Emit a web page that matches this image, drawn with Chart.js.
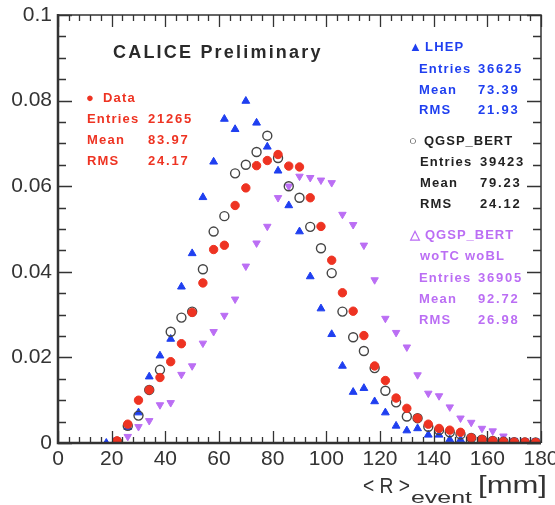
<!DOCTYPE html>
<html>
<head>
<meta charset="utf-8">
<script src="https://cdn.jsdelivr.net/npm/chart.js@4.4.1/dist/chart.umd.min.js"></script>
<style>
  html, body { margin: 0; padding: 0; background: #fff; }
  #wrap { width: 555px; height: 505px; }
</style>
</head>
<body>
<div id="wrap"><canvas id="rChart" width="555" height="505"></canvas></div>
<script>
// bin centres of < R >event [mm]
const rBins = [18, 22, 26, 30, 34, 38, 42, 46, 50, 54, 58, 62, 66, 70, 74, 78, 82, 86, 90, 94,
  98, 102, 106, 110, 114, 118, 122, 126, 130, 134, 138, 142, 146, 150, 154, 158, 162, 166, 170, 174, 178]

// normalised entries per bin
const dataVals = [null, 0.0005, 0.0044, 0.0100, 0.0124, 0.0153, 0.0190, 0.0232, 0.0305, 0.0374,
  0.0452, 0.0462, 0.0555, 0.0596, 0.0648, 0.0660, 0.0674, 0.0647, 0.0645, 0.0573,
  0.0506, 0.0427, 0.0351, 0.0308, 0.0251, 0.0180, 0.0146, 0.0105, 0.0081, 0.0058,
  0.0044, 0.0034, 0.0030, 0.0025, 0.0012, 0.0008, 0.0005, 0.0003, 0.0002, 0.0002, 0.0001]
const lhepVals = [0, 0.0003, 0.0037, 0.0071, 0.0155, 0.0204, 0.0243, 0.0365, 0.0443, 0.0574,
  0.0657, 0.0757, 0.0733, 0.0799, 0.0748, 0.0692, 0.0636, 0.0555, 0.0494, 0.0389,
  0.0314, 0.0254, 0.0180, 0.0119, 0.0128, 0.0097, 0.0071, 0.0040, 0.0029, 0.0034,
  0.0019, 0.0019, 0.0008, 0.0008, 0.0003, 0.0003, 0.0002, 0.0001, 0.0001, 0, 0]
const bertVals = [null, 0.0003, 0.0040, 0.0064, 0.0124, 0.0171, 0.0260, 0.0293, 0.0307, 0.0406,
  0.0494, 0.0530, 0.0630, 0.0650, 0.0680, 0.0718, 0.0666, 0.0600, 0.0573, 0.0505,
  0.0455, 0.0397, 0.0307, 0.0247, 0.0215, 0.0175, 0.0122, 0.0095, 0.0062, 0.0058,
  0.0038, 0.0030, 0.0025, 0.0020, 0.0012, 0.0008, 0.0005, 0.0003, 0.0002, 0.0001, 0.0001]
const woVals = [null, 0.0007, 0.0015, 0.0038, 0.0052, 0.0089, 0.0094, 0.0160, 0.0180, 0.0233,
  0.0260, 0.0298, 0.0336, 0.0413, 0.0467, 0.0506, 0.0573, 0.0600, 0.0623, 0.0620,
  0.0614, 0.0608, 0.0534, 0.0510, 0.0462, 0.0381, 0.0291, 0.0258, 0.0224, 0.0159,
  0.0116, 0.0110, 0.0084, 0.0058, 0.0048, 0.0034, 0.0028, 0.0016, 0.0006, 0.0005, 0.0005]

// stat boxes
const statData = ['Entries 21265', 'Mean 83.97', 'RMS 24.17']
const statLhep = ['Entries 36625', 'Mean 73.39', 'RMS 21.93']
const statBert = ['Entries 39423', 'Mean 79.23', 'RMS 24.12']
const statWo = ['Entries 36905', 'Mean 92.72', 'RMS 26.98']

const RED = '#ee3322', BLUE = '#1f3ff0', PURPLE = '#bb6ef4', DARK = '#333'
const FONT = "'Liberation Sans', Arial, sans-serif"

const toPts = vals => rBins.map((r, i) => ({ x: r, y: vals[i] }))

// draw text char by char, ROOT style spacing
function spaced(ctx, txt, x, y, gap) {
  for (const ch of txt) {
    ctx.fillText(ch, x, y)
    x += ctx.measureText(ch).width + gap
  }
  return x
}
// text stretched (or squeezed) horizontally to a given width
function fitScaled(ctx, txt, x, y, w) {
  const sx = w / ctx.measureText(txt).width
  ctx.save()
  ctx.translate(x, y)
  ctx.scale(sx, 1)
  ctx.fillText(txt, 0, 0)
  ctx.restore()
}

function statBlock(ctx, lines, x0, xv, y0, dy) {
  lines.forEach((l, i) => {
    const parts = l.split(' ')
    spaced(ctx, parts[0], x0, y0 + i * dy, 1.2)
    spaced(ctx, parts[1], xv, y0 + i * dy, 1.8)
  })
}

const rootFrame = {
  id: 'rootFrame',
  afterDraw(chart) {
    const { ctx, chartArea: { left, right, top, bottom }, scales: { x, y } } = chart
    ctx.save()
    ctx.strokeStyle = DARK
    // ticks, inside the frame
    ctx.lineWidth = 1.3
    for (let i = 0; i <= 20; i++) {
      const py = Math.round(y.getPixelForValue(i * 0.005)) + 0.5
      const len = i % 4 === 0 ? 14 : 8
      ctx.beginPath()
      ctx.moveTo(left, py); ctx.lineTo(left + len, py)
      ctx.moveTo(right, py); ctx.lineTo(right - len, py)
      ctx.stroke()
    }
    for (let i = 0; i <= 45; i++) {
      const px = Math.round(x.getPixelForValue(i * 4)) + 0.5
      const len = i % 5 === 0 ? 12 : 6
      ctx.beginPath()
      ctx.moveTo(px, bottom); ctx.lineTo(px, bottom - len)
      ctx.moveTo(px, top); ctx.lineTo(px, top + len)
      ctx.stroke()
    }
    // frame
    ctx.lineWidth = 1.5
    ctx.beginPath()
    ctx.moveTo(left, top); ctx.lineTo(right, top); ctx.lineTo(right, bottom)
    ctx.stroke()
    ctx.lineWidth = 2.5
    ctx.beginPath()
    ctx.moveTo(left, top - 1); ctx.lineTo(left, bottom); ctx.lineTo(right, bottom)
    ctx.stroke()

    // axis title: < R >event [mm]
    ctx.fillStyle = DARK
    ctx.textBaseline = 'alphabetic'
    ctx.font = `22px ${FONT}`
    fitScaled(ctx, '< R >', 363, 493, 47)
    ctx.font = `17px ${FONT}`
    fitScaled(ctx, 'event', 411, 503, 61)
    ctx.font = `23px ${FONT}`
    fitScaled(ctx, '[mm]', 478, 493, 69)

    // CALICE Preliminary
    ctx.font = `bold 18px ${FONT}`
    ctx.fillStyle = '#2a2a2a'
    spaced(ctx, 'CALICE Preliminary', 113, 58, 2.2)

    // stat boxes
    ctx.font = `bold 13px ${FONT}`
    ctx.fillStyle = RED
    ctx.fillText('●', 86, 102)
    spaced(ctx, 'Data', 103, 102, 1.2)
    statBlock(ctx, statData, 87, 148, 123, 21)

    ctx.fillStyle = BLUE
    ctx.fillText('▲', 409, 51)
    spaced(ctx, 'LHEP', 425, 51, 1.2)
    statBlock(ctx, statLhep, 419, 478, 73, 20.5)

    ctx.fillStyle = '#222'
    ctx.fillText('○', 409, 145)
    spaced(ctx, 'QGSP_BERT', 424, 145, 1.0)
    statBlock(ctx, statBert, 420, 480, 166, 21)

    ctx.fillStyle = PURPLE
    ctx.fillText('△', 410, 239)
    spaced(ctx, 'QGSP_BERT', 425, 239, 1.0)
    spaced(ctx, 'woTC woBL', 420, 260, 1.2)
    statBlock(ctx, statWo, 419, 478, 282, 21)
    ctx.restore()
  }
}

const datasets = [{
  label: 'Data',
  data: toPts(dataVals),
  pointStyle: 'circle',
  pointRadius: 4.2,
  backgroundColor: RED,
  borderColor: RED,
  borderWidth: 1,
  order: 0
}, {
  label: 'LHEP',
  data: toPts(lhepVals),
  pointStyle: 'triangle',
  pointRadius: 4.5,
  backgroundColor: BLUE,
  borderColor: BLUE,
  borderWidth: 1,
  order: 2
}, {
  label: 'QGSP_BERT',
  data: toPts(bertVals),
  pointStyle: 'circle',
  pointRadius: 4.5,
  backgroundColor: 'rgba(255,255,255,0)',
  borderColor: '#444',
  borderWidth: 1.4,
  order: 1
}, {
  label: 'QGSP_BERT woTC woBL',
  data: toPts(woVals),
  pointStyle: 'triangle',
  rotation: 180,
  pointRadius: 4.3,
  backgroundColor: PURPLE,
  borderColor: PURPLE,
  borderWidth: 1,
  order: 3
}]

const tickFont = { family: FONT, size: 21 }

new Chart(document.getElementById('rChart'), {
  type: 'scatter',
  data: { datasets },
  plugins: [rootFrame],
  options: {
    responsive: false,
    animation: false,
    layout: { padding: { left: 0, top: 15, right: 14, bottom: 0 } },
    plugins: { legend: { display: false }, tooltip: { enabled: false } },
    scales: {
      x: {
        type: 'linear', min: 0, max: 180,
        grid: { display: false, drawTicks: false }, border: { display: false },
        ticks: { stepSize: 20, color: DARK, font: tickFont, padding: 4, maxRotation: 0 },
        afterFit: s => { s.height = 62; s.paddingLeft = 0; s.paddingRight = 0 }
      },
      y: {
        type: 'linear', min: 0, max: 0.1,
        grid: { display: false, drawTicks: false }, border: { display: false },
        ticks: {
          stepSize: 0.02, color: DARK, font: tickFont, padding: 6,
          callback: v => (v < 1e-9 ? '0' : Math.abs(v - 0.1) < 1e-9 ? '0.1' : v.toFixed(2))
        },
        afterFit: s => { s.width = 58; s.paddingTop = 0; s.paddingBottom = 0 }
      }
    }
  }
})
</script>
</body>
</html>
